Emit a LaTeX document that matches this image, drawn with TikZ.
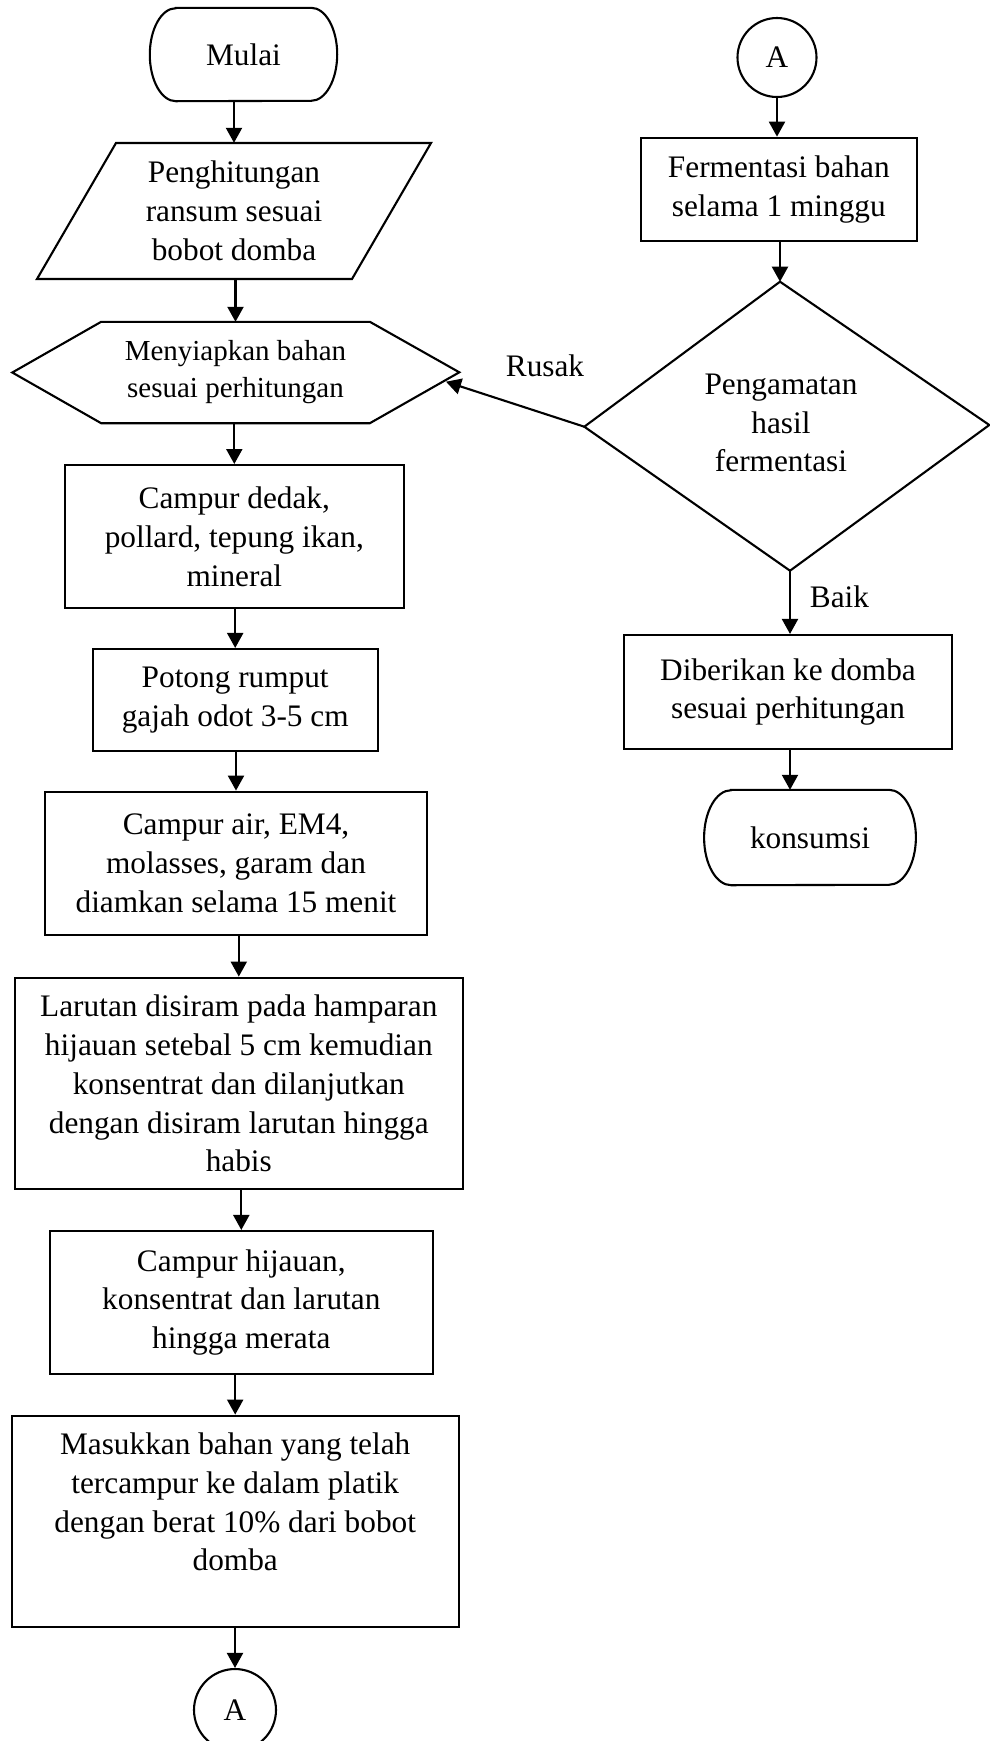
\documentclass[tikz,border=0pt]{standalone}
\usepackage{fontspec}
\setmainfont{Liberation Serif}
\usetikzlibrary{arrows.meta}
\tikzset{
  base/.style={font=\fontsize{31.3}{38.8}\selectfont, align=center, inner sep=0pt},
  small/.style={font=\fontsize{29}{37}\selectfont, align=center, inner sep=0pt},
  box/.style={base, draw, line width=2.1pt, rectangle},
  conn/.style={base, draw, line width=2.1pt, circle},
  outline/.style={line width=2.1pt, line join=miter},
  lnk/.style={line width=2.1pt, -{Triangle[length=15pt,width=16pt]}},
}
\newcommand\drawterm[3]{%
  \draw[outline] ([xshift=#2]#1.north west) -- ([xshift=-#2]#1.north east)
    arc[start angle=90,end angle=-90,x radius=#2,y radius=#3]
    -- ([xshift=#2]#1.south west)
    arc[start angle=270,end angle=90,x radius=#2,y radius=#3] -- cycle;}
\begin{document}
\begin{tikzpicture}[x=1pt,y=1pt]
\useasboundingbox (0,0) rectangle (989,-1741);
\fill[white] (0,0) rectangle (989,-1741);

% ---------- left column ----------
\node[base, minimum width=187pt, minimum height=93pt] (mulai) at (243.5,-54.5) {Mulai};
\drawterm{mulai}{26pt}{46.5pt}

\node[base, minimum width=315pt, minimum height=136pt] (para) at (234,-211) {Penghitungan\\ransum sesuai\\bobot domba};
\coordinate (pNW) at (116,-143);
\coordinate (pNE) at (431,-143);
\coordinate (pSE) at (352,-279);
\coordinate (pSW) at (37,-279);
\draw[outline] (pNW) -- (pNE) -- (pSE) -- (pSW) -- cycle;

\node[small, minimum width=268.3pt, minimum height=101pt] (hex) at (235.5,-372.5) {Menyiapkan bahan\\sesuai perhitungan};
\coordinate (hexE) at (459.3,-372.3);
\coordinate (hexW) at (12.3,-372.5);
\coordinate (hexIn) at (446,-381.7);
\draw[outline] (hex.north west) -- (hex.north east) -- (hexE) -- (hex.south east) -- (hex.south west) -- (hexW) -- cycle;

\node[box, minimum width=338.7pt, minimum height=143.3pt] (dedak) at (234.3,-536.7) {Campur dedak,\\pollard, tepung ikan,\\mineral};
\node[box, minimum width=285pt, minimum height=102pt] (potong) at (235.2,-700) {Potong rumput\\gajah odot 3-5 cm};
\node[box, minimum width=382pt, minimum height=143.3pt] (air) at (236,-863.3) {Campur air, EM4,\\molasses, garam dan\\diamkan selama 15 menit};
\node[box, minimum width=447.7pt, minimum height=211.7pt] (larutan) at (238.8,-1083.5) {Larutan disiram pada hamparan\\hijauan setebal 5 cm kemudian\\konsentrat dan dilanjutkan\\dengan disiram larutan hingga\\habis};
\node[box, minimum width=382.7pt, minimum height=143pt] (hijau) at (241.3,-1302.5) {Campur hijauan,\\konsentrat dan larutan\\hingga merata};
\node[box, minimum width=447pt, minimum height=211.3pt] (masuk) at (235.2,-1521.3) {Masukkan bahan yang telah\\tercampur ke dalam platik\\dengan berat 10\% dari bobot\\domba\\\mbox{}};
\node[conn, minimum size=82pt] (Abot) at (235,-1710) {A};

\draw[lnk] (para.north |- mulai.south) -- (para.north);
\draw[lnk] (hex.north |- pSW) -- (hex.north);
\draw[lnk] (dedak.north |- hex.south) -- (dedak.north);
\draw[lnk] (potong.north |- dedak.south) -- (potong.north);
\draw[lnk] (air.north |- potong.south) -- (air.north);
\draw[lnk] (larutan.north |- air.south) -- (larutan.north);
\draw[lnk] (hijau.north |- larutan.south) -- (hijau.north);
\draw[lnk] (masuk.north |- hijau.south) -- (masuk.north);
\draw[lnk] (Abot.north |- masuk.south) -- (Abot.north);

% ---------- right column ----------
\node[conn, minimum size=79pt] (Atop) at (777,-57.5) {A};
\node[box, minimum width=275.7pt, minimum height=103pt] (ferm) at (778.8,-189.2) {Fermentasi bahan\\selama 1 minggu};

\coordinate (dN) at (780,-281.7);
\coordinate (dE) at (989.3,-425);
\coordinate (dS) at (790,-570.7);
\coordinate (dW) at (584.3,-426.7);
\node[base] (dia) at (781,-423) {Pengamatan\\hasil\\fermentasi};
\draw[outline] (dN) -- (dE) -- (dS) -- (dW) -- cycle;

\node[box, minimum width=328pt, minimum height=114pt] (beri) at (788,-692) {Diberikan ke domba\\sesuai perhitungan};
\node[base, minimum width=211.4pt, minimum height=95pt] (kons) at (810,-837.5) {konsumsi};
\drawterm{kons}{27pt}{47.5pt}

\draw[lnk] (Atop.south) -- (Atop.south |- ferm.north);
\draw[lnk] (dN |- ferm.south) -- (dN);
\draw[lnk] (dS) -- (dS |- beri.north);
\draw[lnk] (dS |- beri.south) -- (dS |- kons.north);
\draw[lnk] (dW) -- (hexIn);

\node[base] (rusak) at (545,-366) {Rusak};
\node[base] (baik) at (839.5,-597) {Baik};
\end{tikzpicture}
\end{document}
